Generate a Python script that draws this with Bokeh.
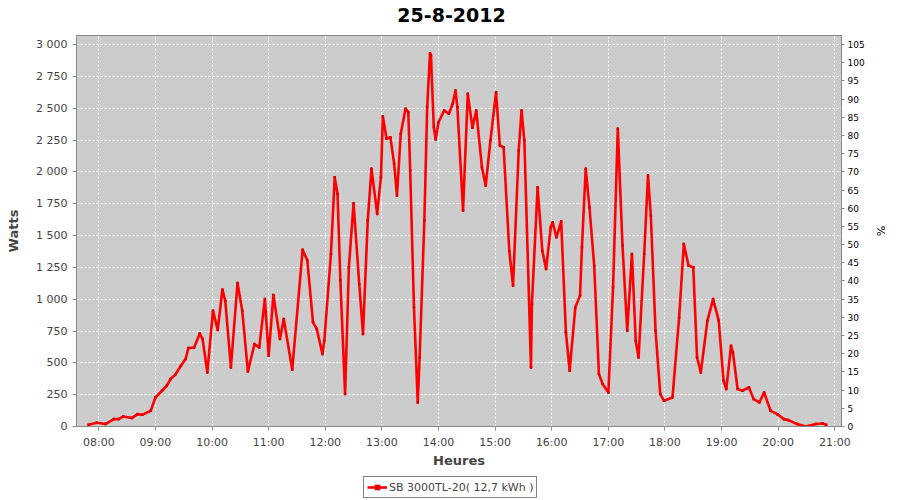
from bokeh.plotting import figure
from bokeh.layouts import column
from bokeh.models import (Range1d, LinearAxis, FixedTicker, Legend, LegendItem, Label)
from bokeh.embed import file_html
from bokeh.resources import INLINE

# ---- data ----
times = ["07:49", "07:58", "08:07", "08:16", "08:21", "08:26", "08:35", "08:41", "08:46", "08:55",
         "09:00", "09:07", "09:12", "09:16", "09:21", "09:27", "09:32", "09:35", "09:41", "09:47",
         "09:50", "09:55", "10:01", "10:06", "10:11", "10:14", "10:20", "10:27", "10:32", "10:38",
         "10:45", "10:50", "10:56", "11:00", "11:05", "11:12", "11:16", "11:25", "11:36", "11:41",
         "11:47", "11:51", "11:57", "11:59", "12:06", "12:10", "12:13", "12:16", "12:21", "12:25",
         "12:30", "12:36", "12:40", "12:45", "12:49", "12:55", "12:59", "13:01", "13:05", "13:09",
         "13:13", "13:16", "13:20", "13:25", "13:28", "13:30", "13:34", "13:38", "13:40", "13:45",
         "13:48", "13:51", "13:52", "13:55", "13:57", "14:00", "14:06", "14:11", "14:15", "14:18",
         "14:20", "14:26", "14:31", "14:36", "14:40", "14:46", "14:50", "14:55", "15:01", "15:05",
         "15:09", "15:15", "15:19", "15:25", "15:28", "15:31", "15:38", "15:39", "15:45", "15:50",
         "15:54", "15:59", "16:01", "16:05", "16:10", "16:15", "16:19", "16:25", "16:30", "16:32",
         "16:36", "16:40", "16:45", "16:50", "16:54", "17:00", "17:05", "17:10", "17:15", "17:20",
         "17:25", "17:29", "17:32", "17:38", "17:42", "17:45", "17:50", "17:55", "17:59", "18:08",
         "18:15", "18:20", "18:25", "18:30", "18:34", "18:38", "18:45", "18:51", "18:57", "19:02",
         "19:05", "19:10", "19:12", "19:17", "19:22", "19:29", "19:34", "19:40", "19:45", "19:52",
         "19:59", "20:06", "20:11", "20:20", "20:29", "20:40", "20:47", "20:51"]
watts = [13, 29, 19, 58, 58, 79, 66, 97, 92, 123,
         228, 281, 320, 373, 406, 477, 530, 616, 621, 731,
         687, 425, 910, 758, 1075, 988, 464, 1127, 910, 432,
         648, 621, 1001, 556, 1033, 687, 844, 446, 1388, 1303,
         818, 766, 569, 674, 1355, 1958, 1827, 1146, 255, 1250,
         1753, 1120, 726, 1617, 2024, 1670, 1958, 2435, 2260, 2272,
         2063, 1814, 2299, 2495, 2469, 2010, 936, 189, 542, 1617,
         2508, 2932, 2914, 2351, 2254, 2390, 2482, 2456, 2535, 2639,
         2508, 1696, 2613, 2346, 2482, 2036, 1892, 2246, 2626, 2207,
         2193, 1381, 1106, 2168, 2482, 2246, 464, 962, 1879, 1381,
         1237, 1565, 1604, 1486, 1612, 739, 438, 936, 1028, 1407,
         2024, 1722, 1263, 412, 333, 267, 1093, 2338, 1421, 752,
         1355, 674, 542, 1355, 1971, 1657, 752, 255, 202, 228,
         857, 1434, 1263, 1250, 542, 425, 831, 1001, 831, 359,
         294, 634, 582, 294, 281, 307, 215, 189, 267, 123,
         97, 58, 50, 19, 0, 19, 24, 13]

hour_ticks = [8, 9, 10, 11, 12, 13, 14, 15, 16, 17, 18, 19, 20, 21]
hour_labels = ["08:00", "09:00", "10:00", "11:00", "12:00", "13:00", "14:00",
               "15:00", "16:00", "17:00", "18:00", "19:00", "20:00", "21:00"]
watt_ticks = [0, 250, 500, 750, 1000, 1250, 1500, 1750, 2000, 2250, 2500, 2750, 3000]
watt_labels = ["0", "250", "500", "750", "1 000", "1 250", "1 500", "1 750",
               "2 000", "2 250", "2 500", "2 750", "3 000"]
pct_ticks = [0, 5, 10, 15, 20, 25, 30, 35, 40, 45, 50, 55, 60, 65, 70, 75, 80,
             85, 90, 95, 100, 105]

title_text = "25-8-2012"
series_name = "SB 3000TL-20( 12,7 kWh )"

# parse times into decimal hours
hours = [int(t[:2]) + int(t[3:]) / 60.0 for t in times]

FONT = "DejaVu Sans"
TXT = "#444444"
RED = "#FF0000"
W = 884


def strip(height):
    f = figure(width=W, height=height, output_backend="svg", toolbar_location=None,
               x_range=Range1d(0, 1), y_range=Range1d(0, 1),
               min_border_left=0, min_border_right=0, min_border_top=0,
               min_border_bottom=0, outline_line_color=None,
               background_fill_color="white", border_fill_color="white")
    f.axis.visible = False
    f.grid.visible = False
    return f


# ---- title strip (frame is aligned with the chart frame, which starts at x=76) ----
tt = strip(26)
tt.add_layout(Label(x=375, y=12, x_units="screen", y_units="screen", text=title_text,
                    text_align="center", text_baseline="middle", text_font=FONT,
                    text_font_size="19px", text_font_style="bold", text_color="black"))

# ---- main chart ----
p = figure(frame_width=765, frame_height=391, output_backend="svg", toolbar_location=None,
           x_range=Range1d(7.606, 21.118), y_range=Range1d(0, 3071),
           min_border_left=76, min_border_right=43, min_border_top=9,
           min_border_bottom=0, background_fill_color="#CCCCCC",
           border_fill_color="white", outline_line_color="#888888")

p.extra_y_ranges = {"pct": Range1d(0, 3071 * 105 / 3000)}

for ax in (p.xaxis[0], p.yaxis[0]):
    ax.axis_line_color = "#888888"
    ax.major_tick_line_color = "#888888"
    ax.minor_tick_line_color = None
    ax.major_tick_in = 0
    ax.major_tick_out = 4
    ax.major_label_text_font = FONT
    ax.major_label_text_font_size = "11px"
    ax.major_label_text_color = TXT
    ax.axis_label_text_font = FONT
    ax.axis_label_text_font_size = "13px"
    ax.axis_label_text_font_style = "bold"
    ax.axis_label_text_color = TXT

p.xaxis[0].ticker = FixedTicker(ticks=hour_ticks)
p.xaxis[0].major_label_overrides = dict(zip(hour_ticks, hour_labels))
p.xaxis[0].axis_label = "Heures"
p.xaxis[0].major_label_standoff = 5
p.xaxis[0].axis_label_standoff = 1

p.yaxis[0].ticker = FixedTicker(ticks=watt_ticks)
p.yaxis[0].major_label_overrides = dict(zip(watt_ticks, watt_labels))
p.yaxis[0].axis_label = "Watts"
p.yaxis[0].major_label_standoff = 5
p.yaxis[0].axis_label_standoff = 12

pax = LinearAxis(y_range_name="pct", ticker=FixedTicker(ticks=pct_ticks), axis_label="%")
pax.axis_line_color = "#888888"
pax.major_tick_line_color = "#888888"
pax.minor_tick_line_color = None
pax.major_tick_in = 0
pax.major_tick_out = 3
pax.major_label_standoff = 3
pax.major_label_text_font = FONT
pax.major_label_text_font_size = "9px"
pax.major_label_text_color = "black"
pax.axis_label_text_font = FONT
pax.axis_label_text_font_size = "11px"
pax.axis_label_text_font_style = "normal"
pax.axis_label_text_color = "black"
pax.axis_label_standoff = 6
p.add_layout(pax, "right")

p.xgrid.ticker = FixedTicker(ticks=hour_ticks)
p.ygrid.ticker = FixedTicker(ticks=watt_ticks)
for g in (p.xgrid[0], p.ygrid[0]):
    g.grid_line_color = "white"
    g.grid_line_dash = "2 2"
    g.grid_line_width = 1
    g.grid_line_alpha = 0.9

p.line(hours, watts, line_color=RED, line_width=2.6, line_join="round")
p.scatter(hours, watts, marker="square", size=2.5, fill_color="#DD0000", line_color=None)

# ---- legend strip (same series, outside this strip's visible range) ----
lg = strip(30)
l_line = lg.line(hours, watts, line_color=RED, line_width=2.6)
l_pts = lg.scatter(hours, watts, marker="square", size=3, fill_color="#DD0000",
                   line_color=None)
legend = Legend(items=[LegendItem(label=series_name, renderers=[l_line, l_pts])],
                location=(287, 2), orientation="horizontal",
                border_line_color="black", border_line_width=1,
                background_fill_color="white", background_fill_alpha=1,
                label_text_font=FONT, label_text_font_size="11px",
                label_text_color=TXT, glyph_width=20, glyph_height=14,
                label_standoff=2, padding=3, margin=0, spacing=0,
                label_height=14)
lg.add_layout(legend)

open("out.html", "w").write(file_html(column(tt, p, lg, spacing=0), INLINE))
